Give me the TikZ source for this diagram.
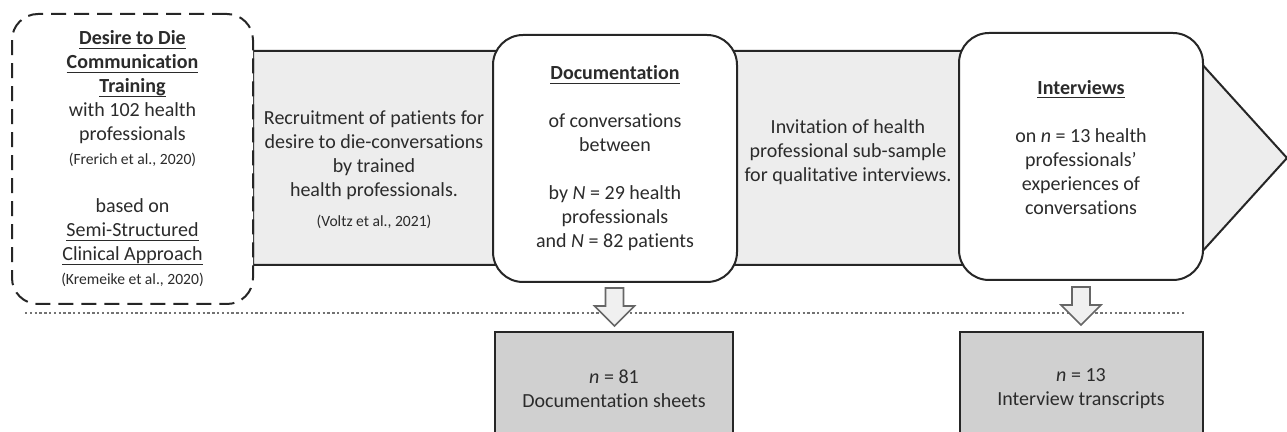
\documentclass[tikz,border=0pt]{standalone}
\usepackage{fontspec}
\setmainfont{Carlito}[Ligatures={TeX,NoCommon}]
\usetikzlibrary{calc}
\definecolor{bodygray}{HTML}{EDEDED}
\definecolor{boxgray}{HTML}{D0D0D0}
\definecolor{ink}{HTML}{2B2B2B}
\newcommand{\refnote}[1]{{\fontsize{7.8}{12}\selectfont #1}}
\newcommand{\ulined}[1]{\setbox0\hbox{#1}\rlap{\rule[-1.9pt]{\wd0}{0.6pt}}\box0}
\newcommand{\headline}[1]{\ulined{\textbf{#1}}}
\tikzset{
  txt/.style={align=center, text=ink, font=\fontsize{10}{12}\selectfont},
  stage/.style={txt, draw=black!85, line width=1pt, fill=white, rounded corners=15pt, minimum width=122pt, minimum height=123.5pt},
  result/.style={txt, draw=black!85, line width=1pt, fill=boxgray, minimum width=119pt, minimum height=56.5pt},
  hollow/.style={draw=black!60, fill=black!6, line width=0.8pt, line join=miter}
}
\begin{document}
\begin{tikzpicture}[x=0.5pt,y=-0.5pt]
\useasboundingbox (0,0) rectangle (1287,432);
\clip (0,0) rectangle (1287,432);
\draw[fill=bodygray, draw=black!85, line width=1pt] (253,51) -- (1190,51) -- (1287,158) -- (1190,265) -- (253,265) -- cycle;
\node[txt, draw=black!85, fill=white, line width=1pt, dash pattern=on 7.5pt off 4pt, rounded corners=13pt, minimum width=120.5pt, minimum height=145pt] (training) at (132.5,159)
  {\headline{Desire to Die}\\\headline{Communication}\\\headline{Training}\\with 102 health\\professionals\\\refnote{(Frerich et al., 2020)}\\[12pt]
   based on\\\ulined{Semi-Structured}\\\ulined{Clinical Approach}\\\refnote{(Kremeike et al., 2020)}};
\node[txt] (recruit) at (374,170) {Recruitment of patients for\\desire to die-conversations\\by trained\\health professionals.\\[3pt]\refnote{(Voltz et al., 2021)}};
\node[txt] (invite) at (848,152) {Invitation of health\\professional sub-sample\\for qualitative interviews.};
\node[stage] (doc) at (615,158.5) {\headline{Documentation}\\[12pt]of conversations\\between\\[12pt]by \textit{N} = 29 health\\professionals\\and \textit{N} = 82 patients};
\node[stage] (int) at (1081,156.5) {\headline{Interviews}\\[12pt]on \textit{n} = 13 health\\professionals'\\experiences of\\conversations\\[-3pt]\mbox{}};
\coordinate (sepl) at (25,313);
\coordinate (sepr) at (1186,313);
\draw[black!55, line width=0.8pt, dash pattern=on 1.2pt off 1.2pt] (sepl) -- (sepr);
\node[result] (sheets) at (614,388.5) {\textit{n} = 81\\Documentation sheets};
\node[result, minimum width=121.5pt] (trans) at (1081,388.5) {\textit{n} = 13\\Interview transcripts};
\foreach \a/\b in {doc/sheets,int/trans} {
  \path ($(\a.south)!0.5!(\b.north)$) coordinate (mid);
  \draw[hollow] ($(mid)+(-9,-19)$) -- ($(mid)+(9,-19)$) -- ($(mid)+(9,-1)$) -- ($(mid)+(20,-1)$) -- ($(mid)+(0,19)$) -- ($(mid)+(-20,-1)$) -- ($(mid)+(-9,-1)$) -- cycle;
}
\end{tikzpicture}
\end{document}
